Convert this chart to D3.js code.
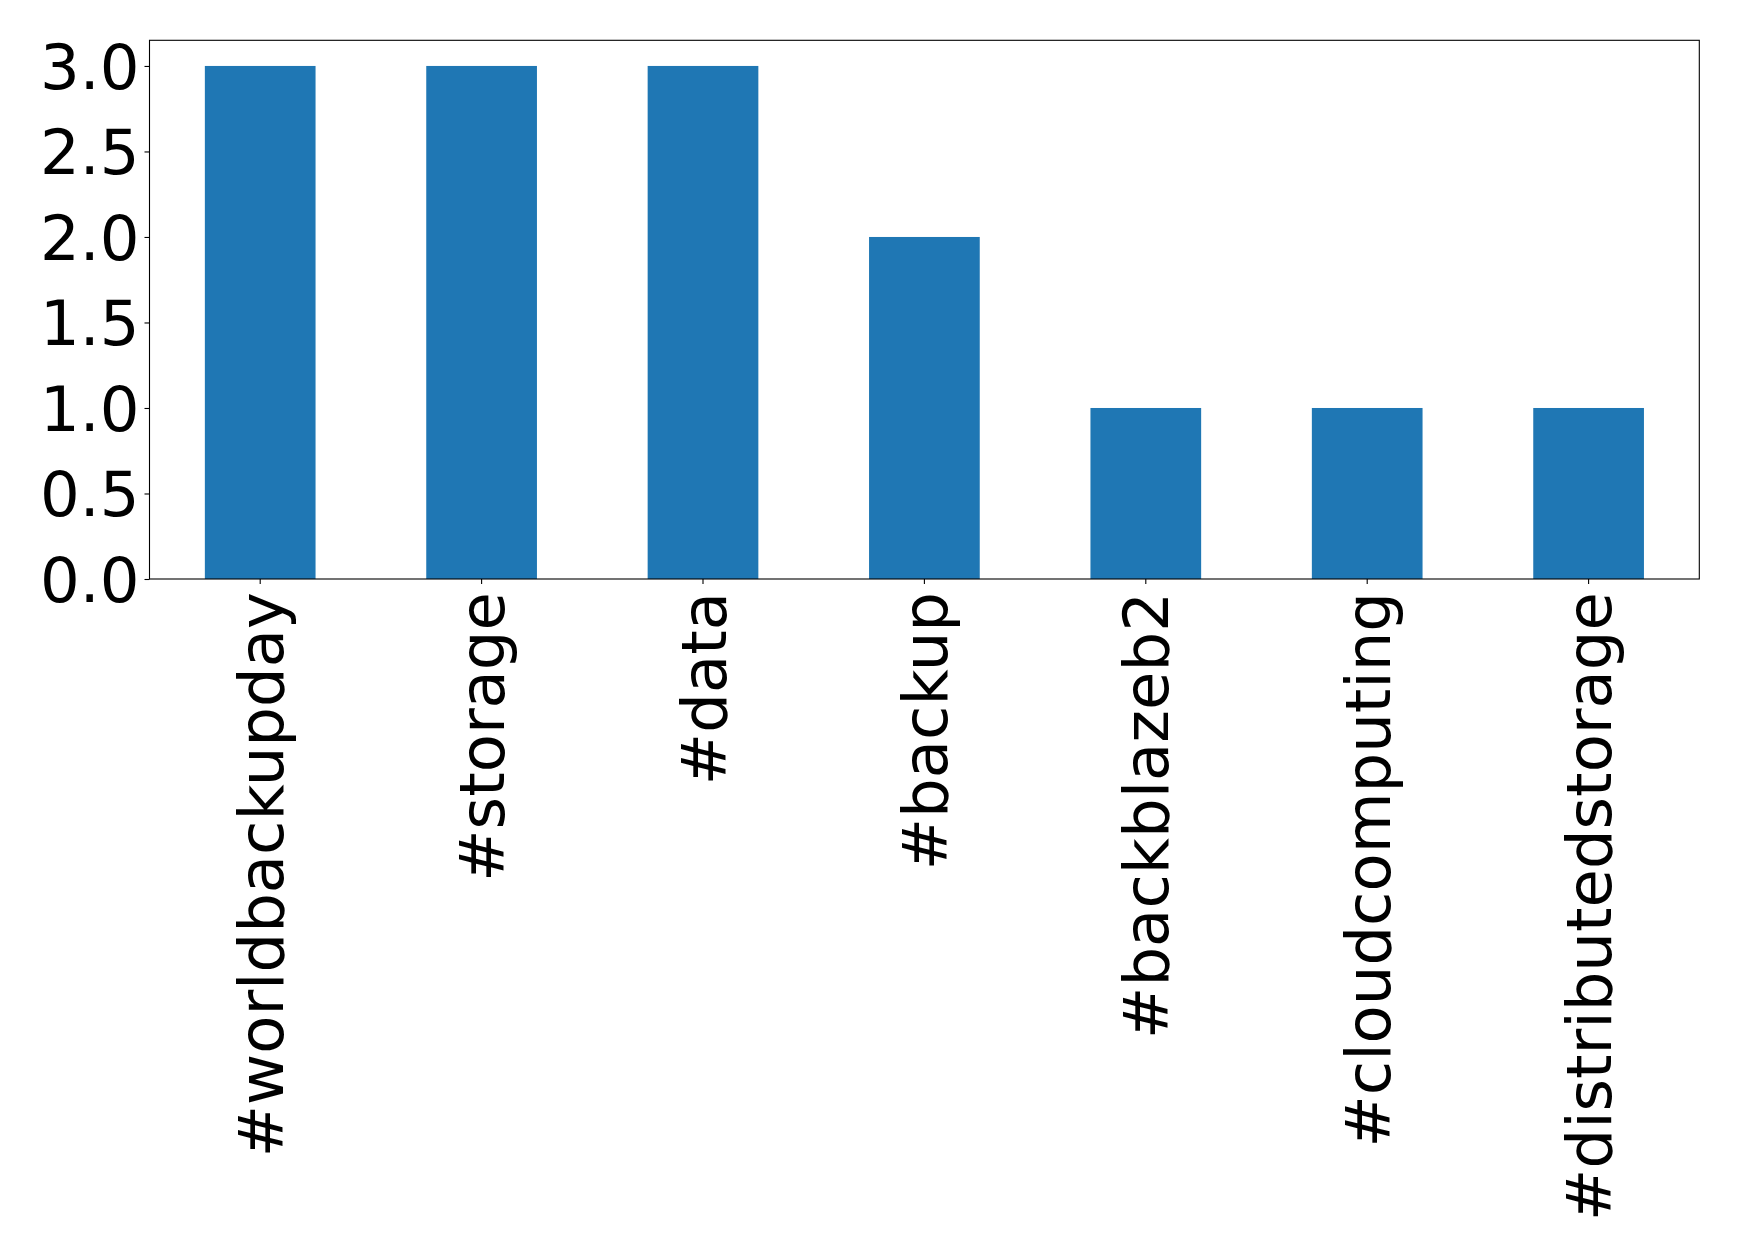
<!DOCTYPE html>
<html>
<head>
<meta charset="utf-8">
<script src="https://cdn.jsdelivr.net/npm/d3@7"></script>
<style>
  body { margin: 0; background: #fff; }
  text { font-family: "DejaVu Sans", sans-serif; fill: #000; }
</style>
</head>
<body>
<div id="main-chart"></div>
<script>
var hashtags = ["#worldbackupday", "#storage", "#data", "#backup", "#backblazeb2", "#cloudcomputing", "#distributedstorage"];
var counts = [3, 3, 3, 2, 1, 1, 1];
var yTicks = [0, 0.5, 1, 1.5, 2, 2.5, 3];

var width = 1739, height = 1257;
var margin = { top: 40.3, right: 39.7, bottom: 678, left: 149.5 };
var innerW = width - margin.left - margin.right;
var innerH = height - margin.top - margin.bottom;

var svg = d3
  .select("#main-chart")
  .append("svg")
  .attr("width", width)
  .attr("height", height);

var g = svg.append("g").attr("transform", "translate(" + margin.left + "," + margin.top + ")");

var x = d3.scaleBand()
  .domain(hashtags)
  .range([0, innerW])
  .paddingInner(0.5)
  .paddingOuter(0.25);

var y = d3.scaleLinear()
  .domain([0, 3.15])
  .range([innerH, 0]);

// bars
g.append("g")
  .selectAll("rect")
  .data(hashtags)
  .enter()
  .append("rect")
  .attr("x", function(d) { return x(d); })
  .attr("width", x.bandwidth())
  .attr("y", function(d, i) { return y(counts[i]); })
  .attr("height", function(d, i) { return innerH - y(counts[i]); })
  .attr("fill", "#1f77b4");

// y axis
var yAxis = g.append("g")
  .call(d3.axisLeft(y).tickValues(yTicks).tickFormat(d3.format(".1f")).tickSize(5).tickPadding(5));
yAxis.selectAll("text").style("font-size", "62.5px").attr("dy", "0.36em");

// x axis
var xAxis = g.append("g")
  .attr("transform", "translate(0," + innerH + ")")
  .call(d3.axisBottom(x).tickSize(5).tickPadding(5));
xAxis.selectAll("text")
  .style("font-size", "62.5px")
  .attr("text-anchor", "end")
  .attr("transform", "translate(0,13) rotate(-90)")
  .attr("x", 0)
  .attr("y", 0)
  .attr("dy", "0.36em");

svg.selectAll(".domain").remove();
svg.selectAll(".tick line").attr("stroke", "#000").attr("stroke-width", 1.1);

// frame
g.append("rect")
  .attr("width", innerW)
  .attr("height", innerH)
  .attr("fill", "none")
  .attr("stroke", "#000")
  .attr("stroke-width", 1.1);
</script>
</body>
</html>
